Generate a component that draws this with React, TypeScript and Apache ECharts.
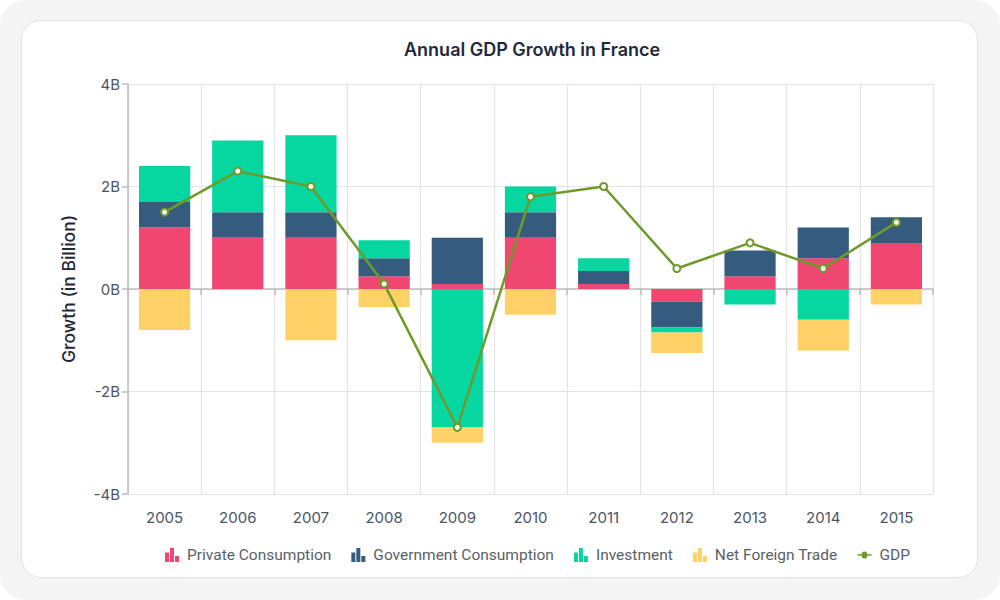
import React, { useEffect, useRef } from "react";
import * as echarts from "echarts";

const years = ["2005", "2006", "2007", "2008", "2009", "2010", "2011", "2012", "2013", "2014", "2015"];
const privateConsumption = [1.2, 1.0, 1.0, 0.25, 0.1, 1.0, 0.1, -0.25, 0.25, 0.6, 0.9];
const governmentConsumption = [0.5, 0.5, 0.5, 0.35, 0.9, 0.5, 0.25, -0.5, 0.5, 0.6, 0.5];
const investment = [0.7, 1.4, 1.5, 0.35, -2.7, 0.5, 0.25, -0.1, -0.3, -0.6, 0];
const netForeignTrade = [-0.8, 0, -1.0, -0.35, -0.3, -0.5, 0, -0.4, 0, -0.6, -0.3];
const gdp = [1.5, 2.3, 2.0, 0.1, -2.7, 1.8, 2.0, 0.4, 0.9, 0.4, 1.3];

const COLORS = {
  priv: "#EF476F",
  gov: "#355C7F",
  inv: "#06D6A0",
  nft: "#FFD166",
  gdp: "#6F9A2B",
};

const PAD = "M0,0H0.01V0.01H0Z M16.99,13.99H17V14H16.99Z ";
const BAR_ICON = "path://" + PAD + "M0,4.5H4V14H0Z M5,0H9V14H5Z M10,8H14V14H10Z";
const LINE_ICON =
  "path://" + PAD + "M0,6.2H4.2A2.8,2.8 0 0 1 9.8,6.2H14V7.8H9.8A2.8,2.8 0 0 1 4.2,7.8H0Z";

export default function App() {
  const ref = useRef<HTMLDivElement>(null);

  useEffect(() => {
    document.body.style.margin = "0";
    if (!ref.current) return;
    const chart = echarts.init(ref.current, undefined, { renderer: "svg" });
    const barSeries = (name: string, data: number[], color: string) => ({
      name,
      type: "bar",
      stack: "total",
      data,
      barWidth: "70%",
      itemStyle: { color },
    });
    chart.setOption({
      animation: false,
      title: {
        text: "Annual GDP Growth in France",
        left: 404,
        top: 40,
        padding: 0,
        textStyle: {
          fontFamily: "Inter",
          fontSize: 18,
          fontWeight: 600,
          color: "#1E293B",
        },
      },
      grid: { left: 128, right: 67, top: 84, bottom: 106 },
      legend: {
        top: 547,
        left: 165,
        padding: 0,
        itemWidth: 17,
        itemHeight: 14,
        itemGap: 20,
        textStyle: { fontFamily: "Roboto", fontSize: 15.5, color: "#5A5F66" },
        data: [
          { name: "Private Consumption", icon: BAR_ICON },
          { name: "Government Consumption", icon: BAR_ICON },
          { name: "Investment", icon: BAR_ICON },
          { name: "Net Foreign Trade", icon: BAR_ICON },
          { name: "GDP", icon: LINE_ICON, itemStyle: { color: COLORS.gdp, borderWidth: 0 } },
        ],
      },
      xAxis: {
        type: "category",
        data: years,
        boundaryGap: true,
        axisLine: { lineStyle: { color: "#BDBDBD", width: 1.5 } },
        axisTick: { show: true, length: 6, lineStyle: { color: "#BDBDBD", width: 1.5 } },
        axisLabel: { margin: 16, fontFamily: "Inter", fontSize: 15, color: "#4B5563" },
        splitLine: { show: true, lineStyle: { color: "#E3E3E3", width: 1.2 } },
      },
      yAxis: {
        type: "value",
        min: -4,
        max: 4,
        interval: 2,
        name: "Growth (in Billion)",
        nameLocation: "middle",
        nameGap: 51,
        nameTextStyle: { fontFamily: "Inter", fontSize: 17.5, fontWeight: 500, color: "#1F2937" },
        axisLine: { show: true, lineStyle: { color: "#BDBDBD", width: 1.5 } },
        axisTick: { show: true, length: 6, lineStyle: { color: "#BDBDBD", width: 1.5 } },
        axisLabel: {
          margin: 8,
          fontFamily: "Inter",
          fontSize: 15,
          color: "#4B5563",
          formatter: (v: number) => `${v}B`,
        },
        splitLine: { show: true, lineStyle: { color: "#E3E3E3", width: 1.2 } },
      },
      series: [
        barSeries("Private Consumption", privateConsumption, COLORS.priv),
        barSeries("Government Consumption", governmentConsumption, COLORS.gov),
        barSeries("Investment", investment, COLORS.inv),
        barSeries("Net Foreign Trade", netForeignTrade, COLORS.nft),
        {
          name: "GDP",
          type: "line",
          data: gdp,
          z: 5,
          symbol: "circle",
          symbolSize: 7,
          lineStyle: { color: COLORS.gdp, width: 2.5 },
          itemStyle: { color: "#FFFFFF", borderColor: COLORS.gdp, borderWidth: 2 },
        },
      ],
    });
    return () => chart.dispose();
  }, []);

  return (
    <div style={{ position: "absolute", left: 0, top: 0, width: 1000, height: 600, background: "#FFFFFF" }}>
      <div
        style={{
          position: "absolute",
          left: 0,
          top: 0,
          width: 1000,
          height: 600,
          background: "#F4F4F4",
          borderRadius: 26,
        }}
      />
      <div
        style={{
          position: "absolute",
          left: 21,
          top: 20,
          width: 955,
          height: 556,
          background: "#FFFFFF",
          border: "1.5px solid #E2E2E2",
          borderRadius: 20,
        }}
      />
      <div ref={ref} style={{ position: "absolute", left: 0, top: 0, width: 1000, height: 600 }} />
    </div>
  );
}
